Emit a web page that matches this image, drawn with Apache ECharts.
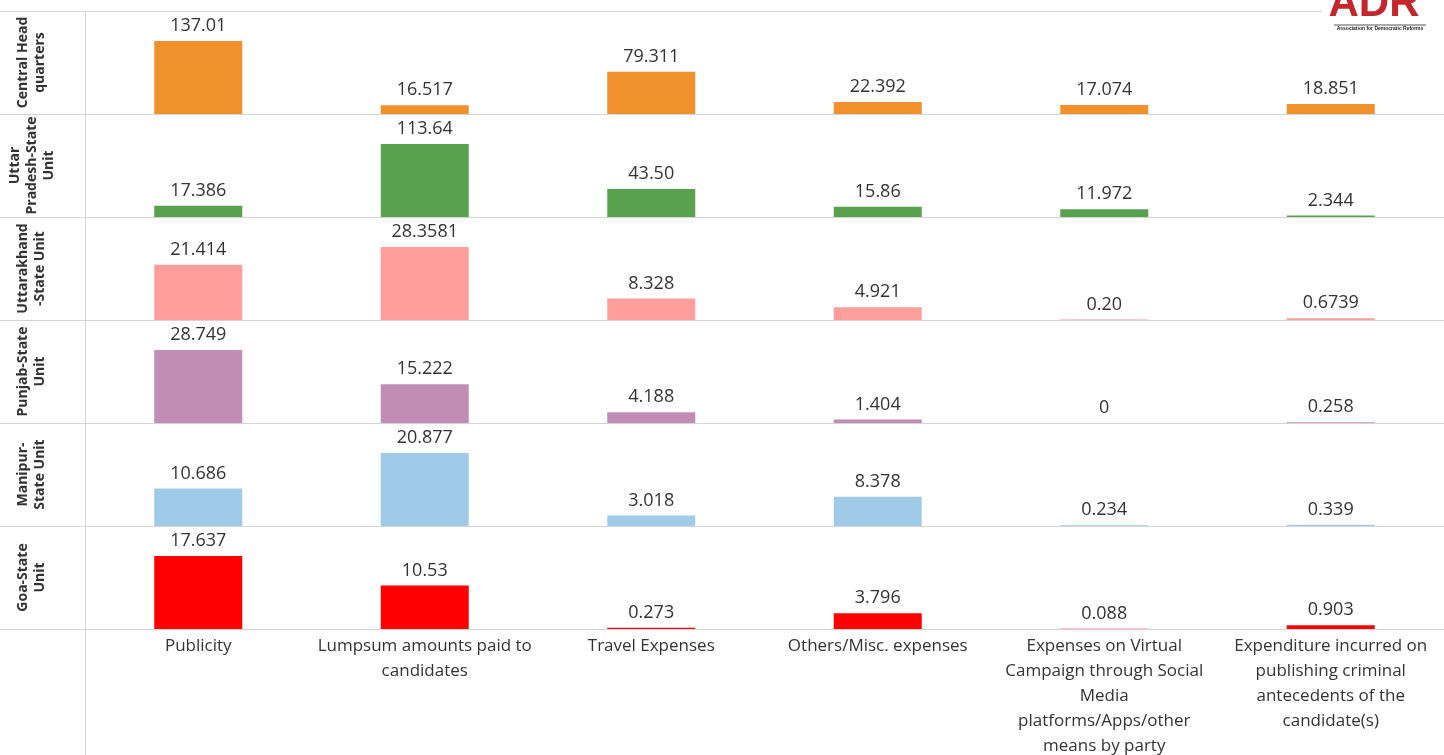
<!DOCTYPE html>
<html><head><meta charset="utf-8">
<script src="https://cdn.jsdelivr.net/npm/echarts@6/dist/echarts.min.js"></script>
<style>html,body{margin:0;padding:0;background:#fff}#c{width:1444px;height:755px}</style>
</head><body><div id="c"></div>
<script>
// ---- data ----
const categories = ['Publicity', 'Lumpsum amounts paid to\ncandidates', 'Travel Expenses', 'Others/Misc. expenses',
  'Expenses on Virtual\nCampaign through Social\nMedia\nplatforms/Apps/other\nmeans by party',
  'Expenditure incurred on\npublishing criminal\nantecedents of the\ncandidate(s)'];
const rowNames = ['Central Head\nquarters', 'Uttar\nPradesh-State\nUnit', 'Uttarakhand\n-State Unit', 'Punjab-State\nUnit', 'Manipur-\nState Unit', 'Goa-State\nUnit'];
const centralHQ = ['137.01', '16.517', '79.311', '22.392', '17.074', '18.851'];
const uttarPradesh = ['17.386', '113.64', '43.50', '15.86', '11.972', '2.344'];
const uttarakhand = ['21.414', '28.3581', '8.328', '4.921', '0.20', '0.6739'];
const punjab = ['28.749', '15.222', '4.188', '1.404', '0', '0.258'];
const manipur = ['10.686', '20.877', '3.018', '8.378', '0.234', '0.339'];
const goa = ['17.637', '10.53', '0.273', '3.796', '0.088', '0.903'];
const rowColors = ['#F0912E', '#58A14E', '#FF9E9A', '#C18CB6', '#A0CBE8', '#FF0000'];

// ---- layout ----
const rows = [centralHQ, uttarPradesh, uttarakhand, punjab, manipur, goa];
const LEFT = 85, TOP = 11, ROW_H = 103, W = 1444, H = 755;
const txt = '#333333', lineC = '#d4d4d4';
const font = "'Open Sans', 'Noto Sans', sans-serif";

const grid = [], xAxis = [], yAxis = [], series = [], graphic = [];
rows.forEach((vals, i) => {
  grid.push({left: LEFT, right: 0, top: TOP + ROW_H * i, height: ROW_H, containLabel: false, outerBoundsMode: 'none'});
  const last = i === rows.length - 1;
  xAxis.push({
    type: 'category', gridIndex: i, data: categories,
    axisLine: {show: false}, axisTick: {show: false}, splitLine: {show: false},
    axisLabel: {show: last, interval: 0, color: txt, fontSize: 17, lineHeight: 25, margin: 5, fontFamily: font}
  });
  yAxis.push({type: 'value', gridIndex: i, show: false, min: 0, max: v => v.max * 1.41, splitLine: {show: false}});
  series.push({
    type: 'bar', xAxisIndex: i, yAxisIndex: i, data: vals, barWidth: 88,
    itemStyle: {color: rowColors[i]},
    label: {show: true, position: 'top', distance: 6, color: txt, fontSize: 18, fontFamily: font,
      formatter: p => p.data}
  });
  graphic.push({
    type: 'text', x: 32, y: TOP + ROW_H * i + ROW_H / 2, rotation: Math.PI / 2,
    style: {text: rowNames[i], fill: txt, font: "bold 14px " + font, textAlign: 'center', textVerticalAlign: 'middle', lineHeight: 17}
  });
});
for (let i = 0; i <= rows.length; i++) {
  const y = TOP + ROW_H * i + 0.5;
  graphic.push({type: 'line', shape: {x1: 0, y1: y, x2: W, y2: y}, style: {stroke: lineC, lineWidth: 1}, z: -1});
}
graphic.push({type: 'line', shape: {x1: LEFT + 0.5, y1: TOP, x2: LEFT + 0.5, y2: H}, style: {stroke: lineC, lineWidth: 1}, z: -1});
// logo
graphic.push({type: 'rect', shape: {x: 1322, y: 0, width: 122, height: 34}, style: {fill: '#fff'}, z: 5});
graphic.push({type: 'text', x: 1374, y: 25, z: 6, style: {text: 'ADR', fill: '#C1272D', font: "bold 42px 'Liberation Sans', sans-serif", textAlign: 'center', textVerticalAlign: 'bottom'}});
graphic.push({type: 'line', z: 6, shape: {x1: 1334, y1: 25, x2: 1426, y2: 25}, style: {stroke: '#555', lineWidth: 1}});
graphic.push({type: 'text', x: 1380, y: 29, z: 6, style: {text: 'Association for Democratic Reforms', fill: '#222', font: "bold 5px 'Liberation Sans', sans-serif", textAlign: 'center', textVerticalAlign: 'middle'}});

const chart = echarts.init(document.getElementById('c'), null, {renderer: 'canvas'});
chart.setOption({animation: false, backgroundColor: '#fff', grid, xAxis, yAxis, series, graphic});
</script></body></html>
